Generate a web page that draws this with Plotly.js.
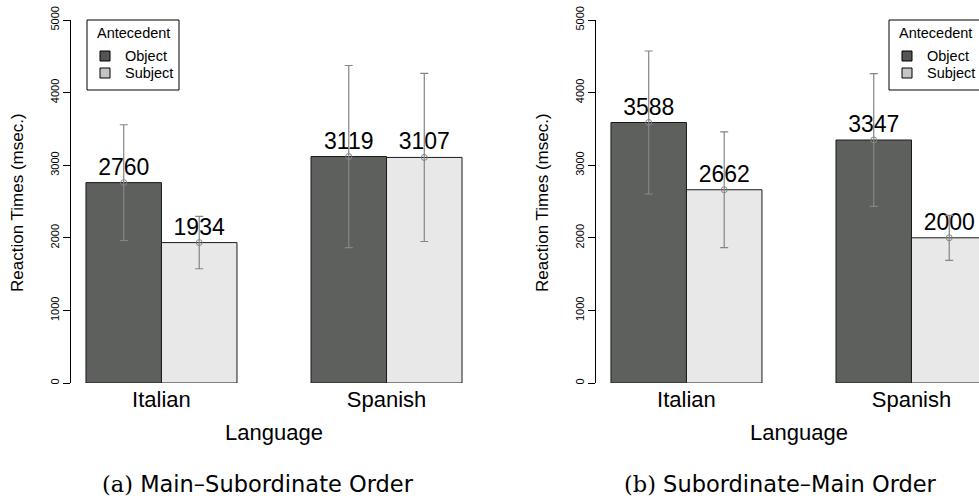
<!DOCTYPE html>
<html>
<head>
<meta charset="utf-8">
<script src="https://cdn.plot.ly/plotly-3.0.1.min.js"></script>
<style>
  html, body { margin: 0; padding: 0; background: #ffffff; }
  #chart { width: 979px; height: 503px; }
</style>
</head>
<body>
<div id="chart"></div>
<script>
// Mean reaction times (msec.) by language and antecedent type
const languages = ['Italian', 'Spanish'];
const antecedents = ['Object', 'Subject'];

// (a) Main–Subordinate order
const mainSubObject = [2760, 3119];
const mainSubSubject = [1934, 3107];
const mainSubObjectErr = [797, 1254];
const mainSubSubjectErr = [360, 1158];

// (b) Subordinate–Main order
const subMainObject = [3588, 3347];
const subMainSubject = [2662, 2000];
const subMainObjectErr = [985, 915];
const subMainSubjectErr = [798, 310];

const yTickVals = [0, 1000, 2000, 3000, 4000, 5000];
const captions = [['(a)', 'Main–Subordinate Order'], ['(b)', 'Subordinate–Main Order']];

const W = 979, H = 503;
const px = v => v / W;
const py = v => 1 - v / H;

const SANS = 'Liberation Sans, Arial, Helvetica, sans-serif';
const barColors = { Object: '#5e605e', Subject: '#e8e8e8' };
const keyColors = { Object: '#555555', Subject: '#c4c4c4' };
const errColor = '#858585';

function panel(objVals, subjVals, objErr, subjErr, xa, ya) {
  const series = [[antecedents[0], objVals, objErr], [antecedents[1], subjVals, subjErr]];
  const traces = [];
  series.forEach(([name, vals]) => {
    traces.push({
      type: 'bar', x: languages, y: vals, name: name,
      xaxis: xa, yaxis: ya, offsetgroup: name,
      marker: { color: barColors[name], line: { color: '#1a1a1a', width: 1 } },
      text: vals.map(String), textposition: 'outside',
      textfont: { family: SANS, size: 23, color: '#000' },
      cliponaxis: false, showlegend: false, hoverinfo: 'skip'
    });
  });
  series.forEach(([name, vals, err]) => {
    traces.push({
      type: 'scatter', mode: 'markers', x: languages, y: vals,
      xaxis: xa, yaxis: ya, offsetgroup: name,
      marker: { symbol: 'circle-open', size: 6, color: errColor, line: { width: 1, color: errColor } },
      error_y: { type: 'data', array: err, visible: true, color: errColor, thickness: 1.2, width: 4 },
      showlegend: false, hoverinfo: 'skip', cliponaxis: false
    });
  });
  return traces;
}

const data = [].concat(
  panel(mainSubObject, mainSubSubject, mainSubObjectErr, mainSubSubjectErr, 'x', 'y'),
  panel(subMainObject, subMainSubject, subMainObjectErr, subMainSubjectErr, 'x2', 'y2')
);

const yDomain = [py(383), py(20)];
const yAxisBase = {
  range: [0, 5000], domain: yDomain, tickvals: yTickVals,
  ticks: 'outside', ticklen: 7, tickcolor: '#000', tickwidth: 1,
  tickangle: -90, tickfont: { family: SANS, size: 11, color: '#000' },
  showline: true, linecolor: '#000', linewidth: 1,
  showgrid: false, zeroline: false, fixedrange: true
};
const xAxisBase = {
  type: 'category', showline: false, ticks: '', showgrid: false, zeroline: false,
  tickfont: { family: SANS, size: 22, color: '#000' }, ticklabelstandoff: 1, fixedrange: true
};

const shapes = [];
const annotations = [];

function legendBox(left, top) {
  shapes.push({ type: 'rect', xref: 'paper', yref: 'paper',
    x0: px(left), x1: px(left + 92), y0: py(top + 70), y1: py(top),
    line: { color: '#000', width: 1 }, fillcolor: '#fff' });
  annotations.push({ xref: 'paper', yref: 'paper', x: px(left + 46), y: py(top + 13),
    text: 'Antecedent', showarrow: false, xanchor: 'center', yanchor: 'middle',
    font: { family: SANS, size: 14.5, color: '#000' } });
  antecedents.forEach((name, i) => {
    const cy = top + 36 + i * 17;
    shapes.push({ type: 'rect', xref: 'paper', yref: 'paper',
      x0: px(left + 13), x1: px(left + 23), y0: py(cy + 5), y1: py(cy - 5),
      line: { color: '#000', width: 1 }, fillcolor: keyColors[name] });
    annotations.push({ xref: 'paper', yref: 'paper', x: px(left + 36), y: py(cy),
      text: name, showarrow: false, xanchor: 'left', yanchor: 'middle',
      font: { family: SANS, size: 14.5, color: '#000' } });
  });
}

function panelText(axisLeft, caption, capCenter) {
  annotations.push({ xref: 'paper', yref: 'paper', x: px(axisLeft - 53), y: py(203),
    text: 'Reaction Times (msec.)', textangle: -90, showarrow: false,
    xanchor: 'center', yanchor: 'middle', font: { family: SANS, size: 17, color: '#000' } });
  annotations.push({ xref: 'paper', yref: 'paper', x: px(axisLeft + 203), y: py(432),
    text: 'Language', showarrow: false, xanchor: 'center', yanchor: 'middle',
    font: { family: SANS, size: 22, color: '#000' } });
  annotations.push({ xref: 'paper', yref: 'paper', x: px(capCenter), y: py(484),
    text: '<span style="font-family:\'DejaVu Serif\', serif">' + caption[0] + '</span> ' + caption[1],
    showarrow: false, xanchor: 'center', yanchor: 'middle',
    font: { family: 'DejaVu Sans, sans-serif', size: 22.5, color: '#000' } });
}

legendBox(87, 20);
legendBox(889, 20);
panelText(71, captions[0], 258);
panelText(596, captions[1], 780);

const layout = {
  width: W, height: H,
  margin: { l: 0, r: 0, t: 0, b: 0 },
  paper_bgcolor: '#fff', plot_bgcolor: '#fff',
  barmode: 'group', bargap: 0.329, bargroupgap: 0,
  scattermode: 'group', scattergap: 0.329,
  showlegend: false,
  xaxis: Object.assign({}, xAxisBase, { domain: [px(71), px(477)], range: [-0.402, 1.402], anchor: 'y' }),
  xaxis2: Object.assign({}, xAxisBase, { domain: [px(596), 1], range: [-0.402, 1.3], anchor: 'y2' }),
  yaxis: Object.assign({}, yAxisBase, { anchor: 'x' }),
  yaxis2: Object.assign({}, yAxisBase, { anchor: 'x2' }),
  shapes: shapes,
  annotations: annotations
};

Plotly.newPlot('chart', data, layout, { staticPlot: true, displayModeBar: false });
</script>
</body>
</html>
